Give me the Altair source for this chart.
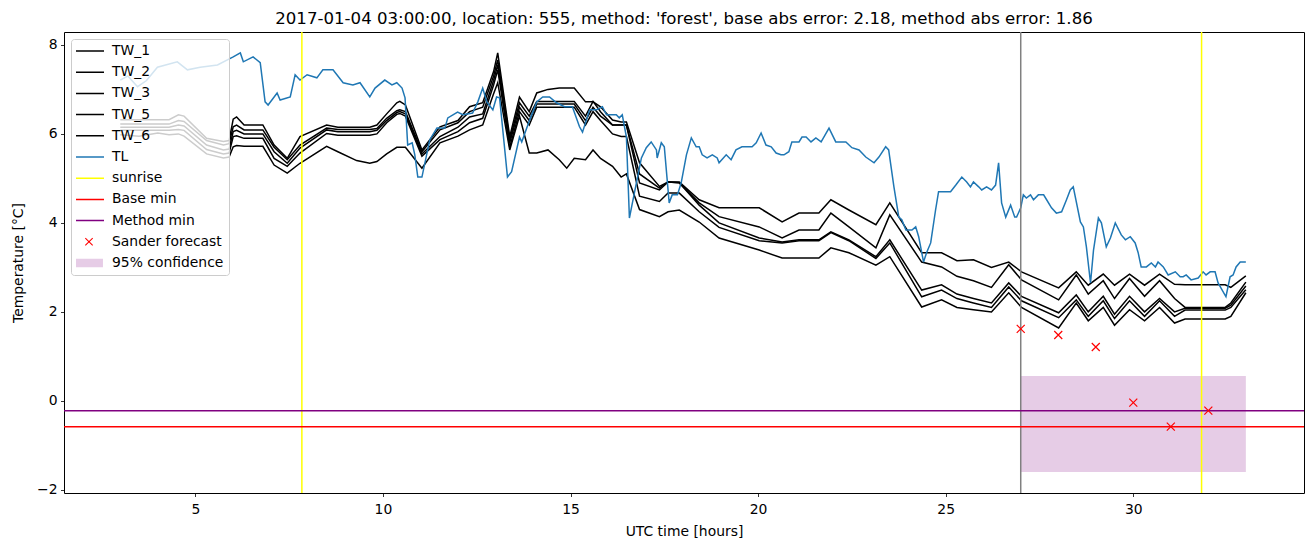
import altair as alt
import pandas as pd

# ---------------- data ----------------
TW_HOURS = [3.0, 3.5, 4.0, 4.3, 4.55, 4.7, 5.3, 5.75, 5.9, 6.01, 6.1, 6.3, 6.8, 7.1, 7.45, 7.79,
            8.5, 8.8, 9.3, 9.65, 9.84, 10.1, 10.37, 10.45, 10.6, 11.04, 11.52, 12.0, 12.31, 12.66,
            12.95, 13.06, 13.38, 13.64, 13.9, 14.1, 14.4, 14.7, 14.9, 15.1, 15.4, 15.6, 15.8, 16.12,
            16.35, 16.49, 16.84, 17.37, 17.6, 17.9, 18.43, 18.96, 20.03, 20.64, 21.09, 21.62, 21.94,
            22.42, 23.14, 23.51, 24.36, 24.89, 25.3, 25.74, 26.22, 26.68, 27.02, 28.01, 28.48, 28.8,
            29.2, 29.5, 29.9, 30.3, 30.7, 31.1, 31.38, 32.45, 32.6, 33.0]

TW_1 = [6.32, 6.32, 6.32, 6.32, 6.43, 6.4, 5.9, 5.83, 5.85, 6.33, 6.38, 6.2, 6.2, 5.75, 5.45, 5.94,
        6.2, 6.15, 6.15, 6.15, 6.2, 6.45, 6.7, 6.73, 6.65, 5.64, 6.16, 6.3, 6.61, 6.7,
        7.4, 7.82, 5.94, 6.83, 6.5, 6.92, 7.0, 7.03, 7.03, 7.03, 6.72, 6.72, 6.61, 6.31,
        6.27, 6.27, 5.35, 4.82, 4.92, 4.92, 4.52, 4.34, 4.34, 4.02, 4.22, 4.22, 4.52,
        4.29, 3.96, 4.45, 3.33, 3.33, 3.15, 3.17, 3.0, 3.12, 2.9, 2.54, 2.9, 2.6,
        2.85, 2.6, 2.85, 2.6, 2.85, 2.62, 2.61, 2.61, 2.55, 2.81]

TW_2 = [6.22, 6.22, 6.22, 6.22, 6.3, 6.28, 5.85, 5.75, 5.78, 6.16, 6.2, 6.09, 6.09, 5.7, 5.42, 5.75,
        6.13, 6.1, 6.1, 6.1, 6.12, 6.35, 6.52, 6.54, 6.5, 5.6, 6.09, 6.25, 6.5, 6.6,
        7.3, 7.66, 5.87, 6.7, 6.4, 6.73, 6.73, 6.73, 6.73, 6.73, 6.4, 6.73, 6.5, 6.2,
        6.2, 6.2, 5.1, 4.78, 4.92, 4.9, 4.45, 4.14, 3.91, 3.66, 3.84, 3.84, 4.22,
        3.91, 3.44, 4.18, 3.12, 3.01, 2.8, 2.7, 2.55, 3.06, 2.72, 2.27, 2.83, 2.4,
        2.7, 2.3, 2.75, 2.35, 2.7, 2.3, 2.1, 2.1, 2.2, 2.67]

TW_3 = [6.15, 6.15, 6.15, 6.15, 6.2, 6.18, 5.75, 5.64, 5.66, 6.05, 6.08, 6.0, 6.0, 5.6, 5.34, 5.68,
        6.09, 6.05, 6.05, 6.05, 6.08, 6.3, 6.48, 6.5, 6.45, 5.55, 5.94, 6.15, 6.38, 6.45,
        7.2, 7.55, 5.8, 6.6, 6.3, 6.67, 6.67, 6.67, 6.67, 6.67, 6.3, 6.6, 6.4, 6.2,
        6.2, 6.2, 4.9, 4.74, 4.92, 4.9, 4.4, 4.0, 3.66, 3.57, 3.62, 3.62, 3.8,
        3.62, 3.24, 3.62, 2.49, 2.61, 2.4, 2.3, 2.2, 2.65, 2.35, 1.98, 2.38, 2.0,
        2.35, 1.95, 2.35, 2.0, 2.3, 2.0, 2.08, 2.08, 2.15, 2.58]

TW_5 = [6.08, 6.08, 6.08, 6.08, 6.1, 6.08, 5.65, 5.55, 5.57, 5.94, 5.96, 5.9, 5.9, 5.45, 5.27, 5.57,
        6.01, 5.97, 5.97, 5.97, 6.0, 6.25, 6.44, 6.46, 6.4, 5.5, 5.87, 6.05, 6.25, 6.35,
        7.1, 7.44, 5.7, 6.5, 6.2, 6.6, 6.6, 6.6, 6.6, 6.6, 6.2, 6.5, 6.3, 6.0,
        5.94, 5.94, 4.6, 4.48, 4.67, 4.67, 4.25, 3.9, 3.6, 3.55, 3.6, 3.6, 3.78,
        3.6, 3.2, 3.55, 2.34, 2.49, 2.3, 2.2, 2.1, 2.56, 2.25, 1.87, 2.27, 1.9,
        2.25, 1.85, 2.25, 1.9, 2.25, 1.9, 2.04, 2.04, 2.1, 2.5]

TW_6 = [5.98, 5.95, 6.02, 5.98, 6.0, 5.95, 5.55, 5.46, 5.48, 5.71, 5.74, 5.72, 5.72, 5.3, 5.12, 5.34,
        5.72, 5.6, 5.4, 5.34, 5.38, 5.55, 5.7, 5.7, 5.7, 5.23, 5.8, 5.95, 6.09, 6.2,
        6.9, 7.15, 5.64, 6.4, 5.57, 5.57, 5.64, 5.42, 5.23, 5.45, 5.42, 5.64, 5.45, 5.27,
        5.03, 5.1, 4.3, 4.14, 4.25, 4.29, 4.02, 3.66, 3.39, 3.21, 3.21, 3.21, 3.44,
        3.33, 3.05, 3.24, 2.11, 2.27, 2.1, 2.05, 2.0, 2.43, 2.1, 1.64, 2.2, 1.8,
        2.1, 1.7, 2.05, 1.8, 2.1, 1.75, 1.84, 1.84, 1.9, 2.43]

TW_NAMES = ["TW_1", "TW_2", "TW_3", "TW_5", "TW_6"]
TW_SERIES = [TW_1, TW_2, TW_3, TW_5, TW_6]

TL_HOURS = [3.0, 3.2, 3.46, 3.7, 3.99, 4.52, 4.79, 5.13, 5.59, 6.01, 6.2, 6.28, 6.54, 6.73, 6.86, 6.94,
            7.18, 7.26, 7.53, 7.66, 7.79, 7.98, 8.24, 8.4, 8.67, 8.94, 9.2, 9.39, 9.65, 9.79, 10.05,
            10.24, 10.37, 10.51, 10.59, 10.66, 10.78, 10.85, 10.93, 11.04, 11.25, 11.44, 11.65, 11.73,
            11.99, 12.13, 12.39, 12.53, 12.66, 12.77, 12.93, 13.03, 13.11, 13.32, 13.43, 13.64, 13.7,
            13.91, 14.1, 14.26, 14.44, 14.63, 14.84, 15.05, 15.24, 15.32, 15.51, 15.69, 15.85, 15.96,
            16.22, 16.3, 16.38, 16.49, 16.57, 16.65, 16.89, 17.02, 17.15, 17.29, 17.31, 17.42, 17.5,
            17.63, 17.71, 17.85, 17.95, 18.09, 18.22, 18.35, 18.43, 18.51, 18.64, 18.78, 18.91, 18.96,
            19.15, 19.28, 19.41, 19.57, 19.84, 19.95, 20.08, 20.21, 20.35, 20.48, 20.61, 20.69, 20.82,
            20.9, 21.09, 21.17, 21.28, 21.41, 21.54, 21.68, 21.89, 22.07, 22.34, 22.5, 22.69, 22.87,
            23.09, 23.22, 23.4, 23.48, 23.62, 23.75, 23.83, 23.94, 24.1, 24.2, 24.28, 24.41, 24.49,
            24.6, 24.73, 24.81, 25.13, 25.27, 25.43, 25.56, 25.66, 25.74, 25.88, 25.96, 26.09, 26.22,
            26.33, 26.41, 26.49, 26.6, 26.73, 26.84, 26.89, 27.0, 27.07, 27.15, 27.26, 27.34, 27.47,
            27.61, 27.69, 27.82, 27.95, 28.09, 28.22, 28.32, 28.4, 28.59, 28.67, 28.75, 28.86, 28.94,
            29.07, 29.15, 29.28, 29.39, 29.52, 29.68, 29.79, 29.92, 30.05, 30.13, 30.21, 30.35, 30.48,
            30.59, 30.66, 30.8, 30.93, 31.12, 31.25, 31.33, 31.41, 31.54, 31.73, 31.86, 31.94, 32.05,
            32.18, 32.26, 32.47, 32.58, 32.66, 32.74, 32.85, 33.0]

TL_VALUES = [7.21, 7.3, 7.06, 7.2, 7.5, 7.62, 7.44, 7.5, 7.55, 7.73, 7.82, 7.62, 7.73, 7.6, 6.72, 6.65,
             6.92, 6.76, 6.83, 7.33, 7.21, 7.33, 7.26, 7.44, 7.44, 7.15, 7.1, 7.15, 6.83, 7.03, 7.21,
             7.1, 7.15, 7.03, 6.81, 5.75, 5.8, 5.53, 5.03, 5.03, 5.87, 6.13, 6.13, 6.36,
             6.49, 6.43, 6.47, 6.72, 7.03, 6.72, 6.54, 6.83, 6.81, 5.03, 5.15, 5.93, 5.82,
             6.31, 6.72, 6.83, 6.83, 6.7, 6.61, 6.61, 6.16, 6.04, 6.54, 6.54, 6.61, 6.43,
             6.43, 6.36, 6.43, 5.93, 4.11, 4.45, 5.46, 5.69, 5.82, 5.64, 5.46, 5.8, 5.71,
             4.45, 4.63, 4.63, 4.9, 5.53, 5.91, 5.71, 5.71, 5.53, 5.46, 5.53, 5.46, 5.35,
             5.53, 5.42, 5.64, 5.71, 5.71, 5.8, 6.02, 5.75, 5.71, 5.57, 5.53, 5.53, 5.6,
             5.82, 5.82, 5.93, 5.93, 5.82, 5.91, 5.82, 6.13, 5.82, 5.82, 5.69, 5.64, 5.48,
             5.35, 5.48, 5.71, 5.64, 4.81, 4.13, 4.07, 3.84, 3.84, 3.91, 3.69, 3.12, 3.33,
             3.55, 4.29, 4.7, 4.7, 4.85, 5.03, 4.92, 4.81, 4.92, 4.81, 4.74, 4.81, 4.74,
             4.85, 5.35, 4.45, 4.13, 4.4, 4.13, 4.13, 4.34, 4.63, 4.56, 4.63, 4.52, 4.63,
             4.63, 4.52, 4.34, 4.22, 4.25, 4.52, 4.74, 4.81, 4.02, 3.91, 3.46, 2.65, 3.39,
             4.11, 4.0, 3.46, 3.66, 4.0, 3.73, 3.62, 3.69, 3.55, 3.33, 3.01, 3.01, 3.1,
             3.01, 3.12, 3.01, 2.83, 2.9, 2.79, 2.79, 2.83, 2.72, 2.76, 2.9, 2.83, 2.9,
             2.9, 2.65, 2.34, 2.79, 2.83, 3.01, 3.12, 3.12]

SUNRISE_HOURS = [7.84, 31.82]
FORECAST_START = [27.0]
BASE_MIN = [-0.58]
METHOD_MIN = [-0.22]
SANDER_HOURS = [27, 28, 29, 30, 31, 32]
SANDER_VALUES = [1.62, 1.48, 1.21, -0.04, -0.58, -0.22]
CONF_START, CONF_END = [27.0], [33.0]
CONF_LOW, CONF_HIGH = [-1.6], [0.56]

X_TICKS = [5, 10, 15, 20, 25, 30]
Y_TICKS = [-2, 0, 2, 4, 6, 8]
X_DOMAIN = [1.5, 34.55]
Y_DOMAIN = [-2.07, 8.29]

TITLE = "2017-01-04 03:00:00, location: 555, method: 'forest', base abs error: 2.18, method abs error: 1.86"

LEGEND_LABELS = ["TW_1", "TW_2", "TW_3", "TW_5", "TW_6", "TL", "sunrise", "Base min",
                 "Method min", "Sander forecast", "95% confidence"]
LEGEND_COLORS = ["black", "black", "black", "black", "black", "#1f77b4", "yellow", "red",
                 "purple", "red", "#e6cce6"]

# ---------------- build tables ----------------
tw_df = pd.DataFrame(
    [{"series": n, "h": h, "v": v}
     for n, vals in zip(TW_NAMES, TW_SERIES)
     for h, v in zip(TW_HOURS, vals)]
)
tl_df = pd.DataFrame({"h": TL_HOURS, "v": TL_VALUES})
sun_df = pd.DataFrame({"h": SUNRISE_HOURS})
fc_df = pd.DataFrame({"h": FORECAST_START})
base_df = pd.DataFrame({"v": BASE_MIN})
meth_df = pd.DataFrame({"v": METHOD_MIN})
sander_df = pd.DataFrame({"h": SANDER_HOURS, "v": SANDER_VALUES})
conf_df = pd.DataFrame({"h": CONF_START, "h2": CONF_END, "v": CONF_LOW, "hi": CONF_HIGH})
leg_df = pd.DataFrame({"label": LEGEND_LABELS})

LINE_SYM = "M-1,-0.05H1V0.05H-1Z"
X_SYM = ("M-0.27,-0.22L-0.22,-0.27L0.27,0.22L0.22,0.27Z "
         "M0.22,-0.27L0.27,-0.22L-0.22,0.27L-0.27,0.22Z")
RECT_SYM = "M-0.93,-0.28H0.93V0.28H-0.93Z"
LEGEND_SHAPES = [LINE_SYM] * 9 + [X_SYM, RECT_SYM]

FONT = "DejaVu Sans"
xs = alt.Scale(domain=X_DOMAIN, nice=False, zero=False)
ys = alt.Scale(domain=Y_DOMAIN, nice=False, zero=False)

x_axis = alt.Axis(values=X_TICKS, title="UTC time [hours]", titlePadding=8, labelPadding=6)
y_axis = alt.Axis(values=Y_TICKS, title="Temperature [°C]", titlePadding=11, labelPadding=3.5)


def X(field="h"):
    return alt.X(f"{field}:Q", scale=xs, axis=x_axis)


def Y(field="v"):
    return alt.Y(f"{field}:Q", scale=ys, axis=y_axis)


conf = alt.Chart(conf_df).mark_rect(color="#800080", opacity=0.2).encode(
    x=X(), x2="h2:Q", y=Y(), y2="hi:Q",
)

tw = alt.Chart(tw_df).mark_line(color="black", strokeWidth=1.5).encode(
    x=X(), y=Y(), detail="series:N",
)

tl = alt.Chart(tl_df).mark_line(color="#1f77b4", strokeWidth=1.5).encode(x=X(), y=Y())

sun = alt.Chart(sun_df).mark_rule(color="yellow", strokeWidth=1.5).encode(x=X())
fc = alt.Chart(fc_df).mark_rule(color="gray", strokeWidth=1.5).encode(x=X())
base = alt.Chart(base_df).mark_rule(color="red", strokeWidth=1.5).encode(y=Y())
meth = alt.Chart(meth_df).mark_rule(color="purple", strokeWidth=1.5).encode(y=Y())
sander = alt.Chart(sander_df).mark_point(
    shape="M-1,-1L1,1M-1,1L1,-1", filled=False, color="red", size=64, strokeWidth=1.2, opacity=1
).encode(x=X(), y=Y())

leg_props = dict(
    title=None, orient="top-left", offset=7, padding=5,
    fillColor="rgba(255,255,255,0.8)", strokeColor="#cccccc", cornerRadius=3,
    labelFont=FONT, labelFontSize=13.9, labelColor="black", labelOffset=8,
    symbolSize=900, clipHeight=14, rowPadding=7.2, symbolOffset=-2,
    symbolStrokeWidth=0, symbolOpacity=1,
)
legend_layer = alt.Chart(leg_df).mark_point(filled=True, opacity=0, size=900).encode(
    color=alt.Color("label:N", scale=alt.Scale(domain=LEGEND_LABELS, range=LEGEND_COLORS),
                    legend=alt.Legend(**leg_props)),
    shape=alt.Shape("label:N", scale=alt.Scale(domain=LEGEND_LABELS, range=LEGEND_SHAPES),
                    legend=alt.Legend(**leg_props)),
)

chart = alt.layer(conf, tw, tl, sun, fc, base, meth, sander, legend_layer).properties(
    width=1240, height=461,
    autosize=alt.AutoSizeParams(type="none"),
    padding={"left": 56, "top": 24, "right": 1, "bottom": 46},
    title=alt.TitleParams(TITLE, font=FONT, fontSize=16.6, fontWeight="normal", color="black",
                          anchor="middle", frame="group", offset=4),
).configure_view(
    stroke="black", strokeWidth=1
).configure_axis(
    domain=False, grid=False, ticks=True, tickColor="black", tickSize=3.5, tickWidth=0.8,
    labelFont=FONT, labelFontSize=13.9, labelColor="black",
    titleFont=FONT, titleFontSize=13.9, titleFontWeight="normal", titleColor="black",
)

chart.save("out.html", embed_options={"renderer": "svg", "actions": False})
